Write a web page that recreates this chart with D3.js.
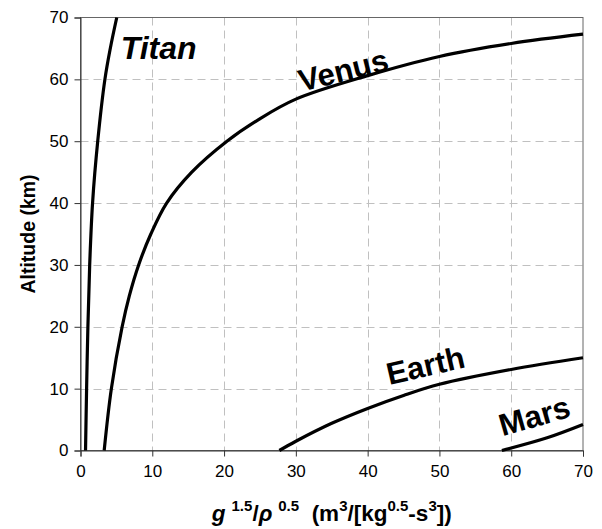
<!DOCTYPE html>
<html>
<head>
<meta charset="utf-8">
<script src="https://cdn.jsdelivr.net/npm/d3@7/dist/d3.min.js"></script>
<style>
  body { margin: 0; background: #fff; }
  svg { display: block; font-family: Arial, "Liberation Sans", sans-serif; }
</style>
</head>
<body>
<svg id="chart" width="602" height="529"></svg>
<script>
// Altitude (km) and g^1.5/rho^0.5 for each body
const titanAlt  = [0, 10, 20, 30, 40, 50, 60, 65, 70];
const titanVal  = [0.7, 0.85, 1.03, 1.28, 1.68, 2.4, 3.4, 4.15, 5.05];

const venusAlt  = [0, 10, 20, 25, 30, 35, 40, 45, 50, 53.5, 56.8, 60.6, 63.7, 65.8, 67.3];
const venusVal  = [3.3, 4.3, 5.8, 6.8, 8.1, 9.8, 12.0, 15.5, 20.4, 24.8, 30, 40, 50, 60, 70];

const earthAlt  = [0, 1.5, 4.4, 6.8, 8.9, 10.7, 13.1, 15.0];
const earthVal  = [27.7, 30, 35, 40, 45, 50, 60, 70];

const marsAlt   = [0, 2.05, 4.2];
const marsVal   = [58.7, 65, 70];

const xTicks = [0, 10, 20, 30, 40, 50, 60, 70];
const yTicks = [0, 10, 20, 30, 40, 50, 60, 70];

const series = [
  { name: "Titan", alt: titanAlt, val: titanVal },
  { name: "Venus", alt: venusAlt, val: venusVal },
  { name: "Earth", alt: earthAlt, val: earthVal },
  { name: "Mars",  alt: marsAlt,  val: marsVal }
];

const svg = d3.select("#chart");
const plotL = 80.5, plotR = 583, plotT = 17.5, plotB = 450.5;

const x = d3.scaleLinear().domain([0, 70]).range([plotL, plotR]);
const y = d3.scaleLinear().domain([0, 70]).range([plotB, plotT]);

// dashed grid
const grid = svg.append("g");
grid.selectAll("line.v").data(xTicks.slice(1, -1)).enter().append("line")
  .attr("x1", d => Math.round(x(d)) + 0.5).attr("x2", d => Math.round(x(d)) + 0.5)
  .attr("y1", plotT).attr("y2", plotB)
  .attr("stroke", "#c0c0c0").attr("stroke-width", 1).attr("stroke-dasharray", "8,5");
grid.selectAll("line.h").data(yTicks.slice(1, -1)).enter().append("line")
  .attr("y1", d => Math.round(y(d)) + 0.5).attr("y2", d => Math.round(y(d)) + 0.5)
  .attr("x1", plotL).attr("x2", plotR)
  .attr("stroke", "#c0c0c0").attr("stroke-width", 1).attr("stroke-dasharray", "8,5");

// plot frame
svg.append("rect")
  .attr("x", plotL).attr("y", plotT)
  .attr("width", plotR - plotL).attr("height", plotB - plotT)
  .attr("fill", "none").attr("stroke", "#666").attr("stroke-width", 1);

// axes
const xAxis = svg.append("g")
  .attr("transform", `translate(0,${plotB})`)
  .call(d3.axisBottom(x).tickValues(xTicks).tickSize(6).tickPadding(8).tickFormat(d3.format("d")));
const yAxis = svg.append("g")
  .attr("transform", `translate(${plotL},0)`)
  .call(d3.axisLeft(y).tickValues(yTicks).tickSize(6).tickPadding(6).tickFormat(d3.format("d")));

[xAxis, yAxis].forEach(a => {
  a.select(".domain").attr("stroke", "#333");
  a.selectAll(".tick line").attr("stroke", "#333");
  a.selectAll(".tick text").attr("fill", "#000").style("font-size", "17px")
    .style("font-family", "Arial, 'Liberation Sans', sans-serif");
});

// curves
const line = d3.line()
  .x(d => x(d[1]))
  .y(d => y(d[0]))
  .curve(d3.curveCatmullRom.alpha(0.5));

svg.append("g").selectAll("path").data(series).enter().append("path")
  .attr("d", s => line(s.alt.map((a, i) => [a, s.val[i]])))
  .attr("fill", "none")
  .attr("stroke", "#000")
  .attr("stroke-width", 3.2)
  .attr("stroke-linejoin", "round");

// curve names
const labels = [
  { text: "Titan", vx: 5.6,  va: 63.3, rot: 0,   italic: true },
  { text: "Venus", vx: 30.8, va: 58.0, rot: -14, italic: false },
  { text: "Earth", vx: 43.0, va: 10.6, rot: -13, italic: false },
  { text: "Mars",  vx: 58.8, va: 2.3,  rot: -16, italic: false }
];
svg.append("g").selectAll("text").data(labels).enter().append("text")
  .attr("transform", d => `translate(${x(d.vx)},${y(d.va)}) rotate(${d.rot})`)
  .attr("font-size", d => d.italic ? 32 : 31)
  .attr("font-weight", "bold")
  .attr("font-style", d => d.italic ? "italic" : "normal")
  .attr("fill", "#000")
  .text(d => d.text);

// axis titles
svg.append("text")
  .attr("transform", `translate(35,${(plotT + plotB) / 2}) rotate(-90)`)
  .attr("text-anchor", "middle")
  .attr("font-size", 19.5)
  .attr("font-weight", "bold")
  .text("Altitude (km)");

const xt = svg.append("text")
  .attr("x", (plotL + plotR) / 2)
  .attr("y", 521)
  .attr("text-anchor", "middle")
  .attr("font-size", 22.5)
  .attr("font-weight", "bold");
const parts = [
  ["g", "italic"], ["\u2009\u20091.5", "sup"], ["/", ""], ["\u03C1", "italic"], ["\u2009\u20090.5", "sup"],
  ["\u00A0\u00A0(m", ""], ["3", "sup"], ["/[kg", ""], ["0.5", "sup"],
  ["-s", ""], ["3", "sup"], ["])", ""]
];
let prevSup = false;
parts.forEach(([t, kind]) => {
  const ts = xt.append("tspan").text(t);
  const isSup = kind === "sup";
  if (kind === "italic") ts.attr("font-style", "italic");
  if (isSup) ts.attr("font-size", 15);
  if (isSup && !prevSup) ts.attr("dy", -10);
  if (!isSup && prevSup) ts.attr("dy", 10);
  prevSup = isSup;
});
</script>
</body>
</html>
